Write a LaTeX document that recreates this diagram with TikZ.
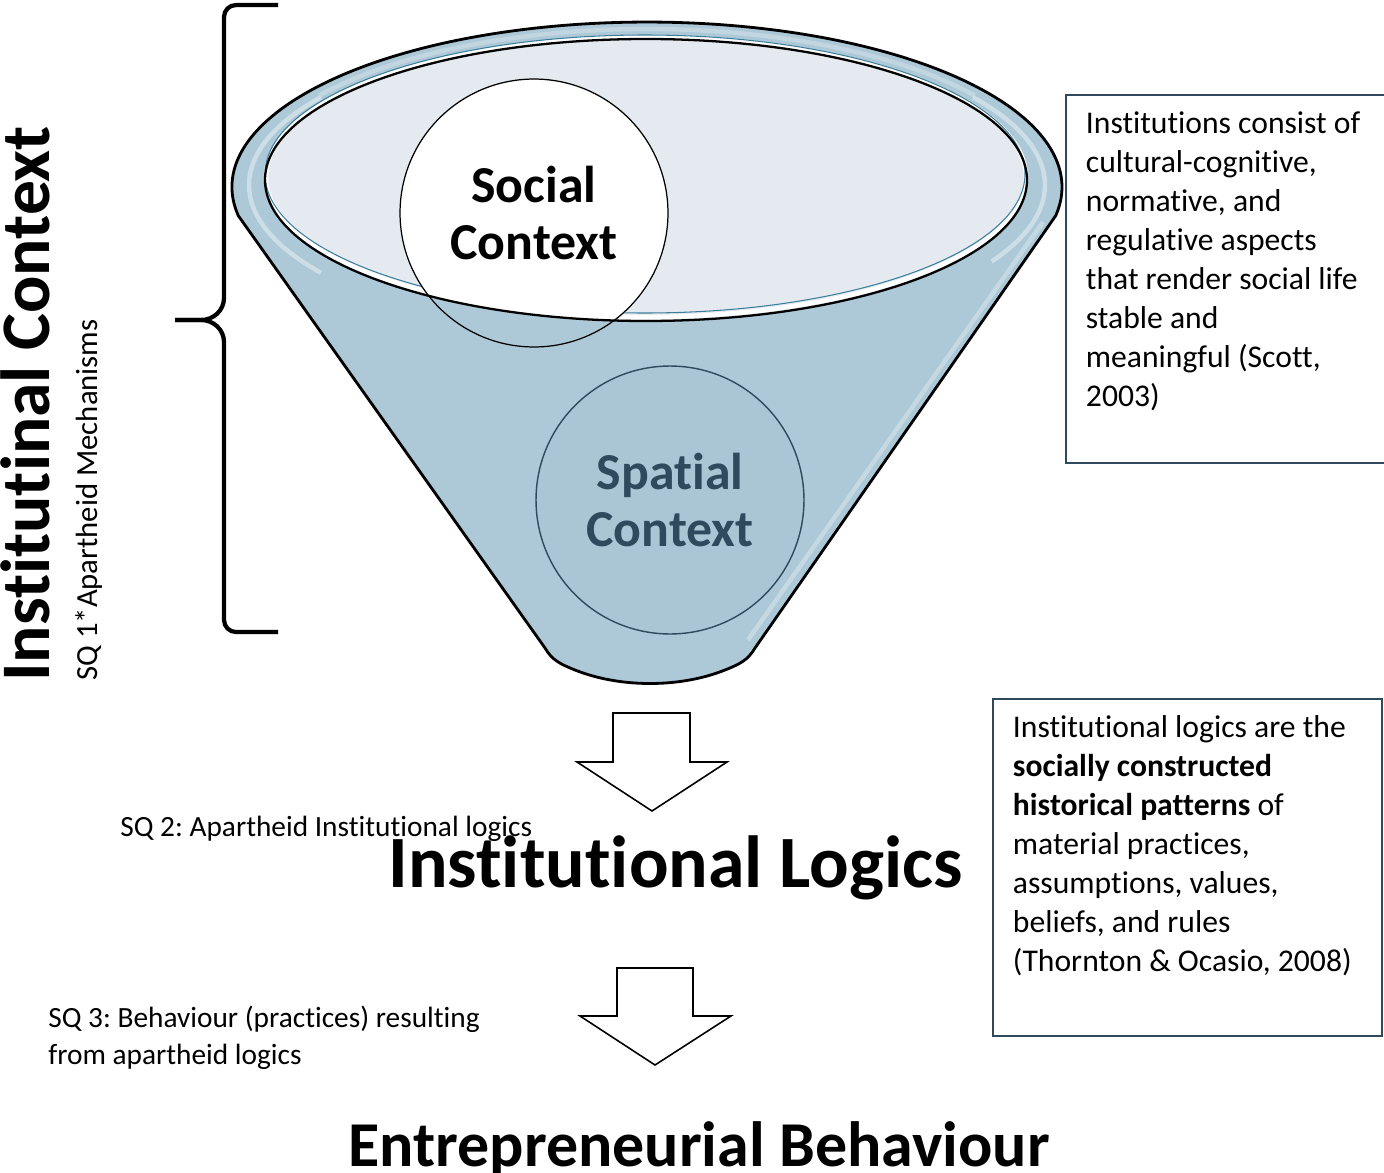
\documentclass[tikz,border=0pt]{standalone}
\usepackage{fontspec}
\setmainfont{Carlito}[Ligatures={NoCommon,NoRequired,NoContextual}, Contextuals=NoAlternate]
\usepackage{xcolor}
\definecolor{funnelblue}{HTML}{ADC9D8}
\definecolor{mouthgray}{HTML}{E4EAEF}
\definecolor{rimteal}{HTML}{3C7D9A}
\definecolor{slate}{HTML}{2E4A5C}
\definecolor{spatialfill}{HTML}{AAC5D3}
\frenchspacing
\tikzset{
    info-box/.style = {draw=slate, line width=1.1pt, rectangle, anchor=north west, inner xsep=0.4cm, inner ysep=0.34cm, font=\fontsize{18}{22.2}\selectfont},
    context-circle/.style = {circle, minimum size=5.36cm, inner sep=0pt, align=center, font=\fontsize{29.5}{33}\selectfont\bfseries},
    block-arrow/.style = {draw, fill=white, line width=0.9pt},
    big-title/.style = {inner sep=0pt, font=\fontsize{42}{48}\selectfont\bfseries},
    sq-label/.style = {inner sep=0pt, align=left, font=\fontsize{16.7}{20.5}\selectfont},
    rim-shine/.style = {white, opacity=0.4, line width=2.5pt},
}
\begin{document}
\begin{tikzpicture}[x=0.02cm, y=-0.02cm]
\useasboundingbox (0,0) rectangle (1384,1173);

\filldraw[fill=funnelblue, line width=1.6pt] (238.3,215.7) arc[start angle=170, end angle=370, x radius=415, y radius=165]
    -- (755,648) .. controls (748,660) and (740,664) .. (725,670) .. controls (680,688) and (620,688) .. (575,670)
    .. controls (560,664) and (552,660) .. (545,648) -- cycle;
\draw[rim-shine] (647,185) ++(145:398 and 153) arc[start angle=145, end angle=215, x radius=398, y radius=153];
\draw[rim-shine] (647,185) ++(-35:398 and 153) arc[start angle=-35, end angle=30, x radius=398, y radius=153];
\draw[rim-shine, opacity=0.25] (647,185) ++(215:400 and 156) arc[start angle=215, end angle=325, x radius=400, y radius=156];
\draw[rim-shine, opacity=0.3] (1043,222) -- (748,640);

\fill[mouthgray] (646,180) ellipse [x radius=381, y radius=141];
\draw[white, line width=2.5pt] (646,177) ellipse [x radius=380, y radius=140];
\draw[rimteal, line width=0.6pt] (645,174) ellipse [x radius=380, y radius=139];
\begin{scope}
\clip (646,180) ellipse [x radius=381, y radius=141];
\fill[white] (534,214) circle [radius=134];
\end{scope}
\draw[line width=1.3pt] (646,180) ellipse [x radius=381, y radius=141];

\node[context-circle, draw, line width=0.7pt] (social) at (534,213) {Social\\Context};
\node[context-circle, draw=slate, fill=spatialfill, line width=0.8pt, text=slate] (spatial) at (670,500) {Spatial\\Context};

\draw[line width=2.4pt] (278,5) -- (236,5) to[out=180,in=90] (224,17) -- (224,298) to[out=-90,in=0] (201,320) -- (175,320);
\draw[line width=2.4pt] (175,320) -- (201,320) to[out=0,in=90] (224,342) -- (224,620) to[out=-90,in=180] (236,632) -- (278,632);

\node[big-title, rotate=90, anchor=base, font=\fontsize{39.6}{44}\selectfont\bfseries] (context-title) at (50,404) {Institutinal Context};
\node[sq-label, rotate=90, anchor=base, font=\fontsize{17.5}{21}\selectfont] (sq-one) at (97,500) {SQ 1*Apartheid Mechanisms};

\node[info-box] (scott) at (1065,94) {\begin{minipage}[t][6.68cm][t]{6.6cm}Institutions consist of\\cultural-cognitive,\\normative, and\\regulative aspects\\that render social life\\stable and\\meaningful (Scott,\\2003)\end{minipage}};

\draw[block-arrow] (613,713) -- (690,713) -- (690,762) -- (727,762) -- (652,811) -- (577,762) -- (613,762) -- cycle;
\node[sq-label, anchor=base west] (sq-two) at (120,836) {SQ 2: Apartheid Institutional logics};
\node[big-title, anchor=base west] (logics) at (388,887) {Institutional Logics};

\node[info-box] (thornton) at (992,698) {\begin{minipage}[t][6.06cm][t]{6.98cm}Institutional logics are the\\\textbf{socially constructed}\\\textbf{historical patterns} of\\material practices,\\assumptions, values,\\beliefs, and rules\\(Thornton \& Ocasio, 2008)\end{minipage}};

\draw[block-arrow] (617,968) -- (693,968) -- (693,1016) -- (731,1016) -- (655,1065) -- (580,1016) -- (617,1016) -- cycle;
\node[sq-label, anchor=base west] (sq-three) at (48,1064) {SQ 3: Behaviour (practices) resulting\\from apartheid logics};
\node[big-title, anchor=base west, font=\fontsize{36.4}{42}\selectfont\bfseries] (behaviour) at (348,1166) {Entrepreneurial Behaviour};
\end{tikzpicture}
\end{document}
